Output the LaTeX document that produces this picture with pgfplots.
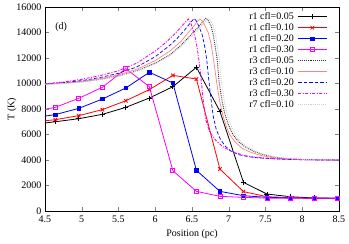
\documentclass[border=0pt]{standalone}
\usepackage{fontspec}
\setmainfont{Liberation Serif}
\usepackage{pgfplots}
\pgfplotsset{compat=1.18}
\definecolor{lred}{RGB}{255,130,130}
\definecolor{lgray}{RGB}{205,205,205}
\definecolor{mag}{RGB}{255,0,255}
\begin{document}
\begin{tikzpicture}
\useasboundingbox (-45pt,-33pt) rectangle (304pt,211pt);
\begin{axis}[
  scale only axis, width=294pt, height=204pt,
  xmin=4.5, xmax=8.5, ymin=0, ymax=16000,
  xtick={4.5,5,5.5,6,6.5,7,7.5,8,8.5},
  ytick={0,2000,4000,6000,8000,10000,12000,14000,16000},
  tick align=inside, tick pos=both, major tick length=4pt,
  axis line style={line width=0.8pt},
  scaled y ticks=false,
  yticklabel style={/pgf/number format/set thousands separator={}, /pgf/number format/fixed},
  xticklabel style={yshift=-1pt},
  /pgf/number format/assume math mode=true,
  tick label style={font=\fontsize{10}{12}\selectfont},
  label style={font=\fontsize{10}{12}\selectfont},
  xlabel={Position (pc)}, ylabel={T (K)},
  ylabel style={at={(axis description cs:-0.112,0.5)}, anchor=center},
  legend style={draw=none, fill=none, inner sep=0pt, at={(0.96,0.98)}, anchor=north east,
    font=\fontsize{10}{12}\selectfont, row sep=0pt,
    nodes={inner sep=0.8pt, text height=7.2pt, text depth=2.2pt},
    /tikz/every odd column/.append style={column sep=3pt}},
  legend cell align=right,
  legend plot pos=right,
  legend image code/.code={\draw[mark repeat=2,mark phase=2,#1] plot coordinates {(0cm,0cm) (0.5cm,0cm) (1cm,0cm)};},
]
% r1 cfl=0.05
\addplot[black, line width=0.8pt, mark=+, mark size=2.5pt] coordinates {
(4.32,6780) (4.64,7000) (4.96,7240) (5.28,7580) (5.60,8130) (5.92,8860) (6.24,9750) (6.56,11270) (6.88,7820) (7.20,2250) (7.52,1330) (7.84,1120) (8.16,1020) (8.48,1000) (8.80,1000)};
\addlegendentry{r1 cfl=0.05}
% r1 cfl=0.10
\addplot[red, line width=0.8pt, mark=x, mark size=2.5pt] coordinates {
(4.32,6970) (4.64,7160) (4.96,7480) (5.28,7950) (5.60,8650) (5.92,9520) (6.24,10640) (6.56,10350) (6.88,3290) (7.20,1520) (7.52,1120) (7.84,1050) (8.16,1010) (8.48,1000) (8.80,1000)};
\addlegendentry{r1 cfl=0.10}
% r1 cfl=0.20
\addplot[blue, line width=0.8pt, mark=square*, mark size=1.7pt] coordinates {
(4.32,7300) (4.64,7560) (4.96,8050) (5.28,8780) (5.60,9650) (5.92,10880) (6.24,10040) (6.56,3190) (6.88,1540) (7.20,1200) (7.52,1070) (7.84,1020) (8.16,1005) (8.48,1000) (8.80,1000)};
\addlegendentry{r1 cfl=0.20}
% r1 cfl=0.30
\addplot[mag, line width=0.8pt, mark=square, mark size=2pt] coordinates {
(4.32,7780) (4.64,8130) (4.96,8840) (5.28,9700) (5.60,11160) (5.92,9750) (6.24,3160) (6.56,1540) (6.88,1150) (7.20,1070) (7.52,1010) (7.84,1000) (8.16,995) (8.48,995) (8.80,995)};
\addlegendentry{r1 cfl=0.30}
% r3 cfl=0.05
\addplot[black!80, densely dotted, line width=0.9pt] coordinates {
(4.5,9950) (4.75,10020) (5.0,10130) (5.25,10320) (5.5,10600) (5.75,11000) (6.0,11600) (6.2,12250) (6.35,13000) (6.5,13900) (6.6,14500) (6.66,14950) (6.69,15110) (6.72,14950) (6.76,14500) (6.79,13800) (6.84,12000) (6.87,10100) (6.91,8600) (6.95,7550) (7.0,6700) (7.06,5960) (7.14,5400) (7.22,5040) (7.33,4700) (7.45,4450) (7.6,4240) (7.8,4100) (8.0,4040) (8.25,4010) (8.5,4000)};
\addlegendentry{r3 cfl=0.05}
% r3 cfl=0.10
\addplot[lred, line width=0.7pt] coordinates {
(4.5,9950) (4.75,10040) (5.0,10170) (5.25,10380) (5.5,10680) (5.75,11120) (6.0,11800) (6.2,12550) (6.35,13300) (6.45,14000) (6.53,14550) (6.58,14900) (6.61,15060) (6.64,14900) (6.68,14500) (6.72,14000) (6.76,13100) (6.80,11600) (6.84,9900) (6.88,8500) (6.92,7500) (6.97,6600) (7.01,6000) (7.09,5400) (7.18,4920) (7.3,4600) (7.45,4340) (7.6,4180) (7.8,4080) (8.0,4030) (8.25,4010) (8.5,4000)};
\addlegendentry{r3 cfl=0.10}
% r3 cfl=0.20
\addplot[blue, dash pattern=on 3.5pt off 2pt, line width=0.7pt] coordinates {
(4.5,9960) (4.75,10070) (5.0,10230) (5.25,10470) (5.5,10800) (5.75,11300) (6.0,12100) (6.2,13000) (6.3,13550) (6.4,14200) (6.47,14700) (6.53,15110) (6.56,14900) (6.60,14400) (6.64,13800) (6.67,13000) (6.70,11900) (6.73,10200) (6.76,8700) (6.79,7400) (6.83,6400) (6.88,5700) (6.95,5100) (7.04,4650) (7.15,4400) (7.27,4260) (7.4,4170) (7.6,4090) (7.8,4050) (8.0,4020) (8.25,4005) (8.5,4000)};
\addlegendentry{r3 cfl=0.20}
% r3 cfl=0.30
\addplot[mag, dash pattern=on 3pt off 1.5pt on 1pt off 1.5pt, line width=0.9pt] coordinates {
(4.5,9970) (4.75,10120) (5.0,10330) (5.25,10620) (5.5,11000) (5.75,11600) (6.0,12550) (6.15,13250) (6.25,13800) (6.33,14300) (6.40,14750) (6.45,15060) (6.48,14800) (6.51,14300) (6.54,13700) (6.57,12800) (6.60,11600) (6.63,10000) (6.66,8300) (6.69,7100) (6.74,6200) (6.83,5500) (6.92,5050) (7.0,4780) (7.1,4550) (7.22,4340) (7.35,4220) (7.5,4150) (7.77,4070) (8.0,4030) (8.25,4005) (8.5,4000)};
\addlegendentry{r3 cfl=0.30}
% r7 cfl=0.10
\addplot[lgray, densely dotted, line width=0.9pt] coordinates {
(4.5,9940) (4.75,10010) (5.0,10110) (5.25,10300) (5.5,10570) (5.75,10960) (6.0,11540) (6.2,12180) (6.35,12900) (6.5,13750) (6.6,14350) (6.68,14850) (6.72,15100) (6.75,14950) (6.79,14500) (6.82,13800) (6.87,12000) (6.90,10100) (6.94,8600) (6.98,7550) (7.03,6700) (7.09,5960) (7.17,5400) (7.25,5040) (7.36,4700) (7.48,4450) (7.63,4240) (7.83,4100) (8.03,4040) (8.28,4010) (8.5,4000)};
\addlegendentry{r7 cfl=0.10}
\node[font=\fontsize{10}{12}\selectfont] at (axis cs:4.72,14400) {(d)};
\end{axis}
\end{tikzpicture}
\end{document}
